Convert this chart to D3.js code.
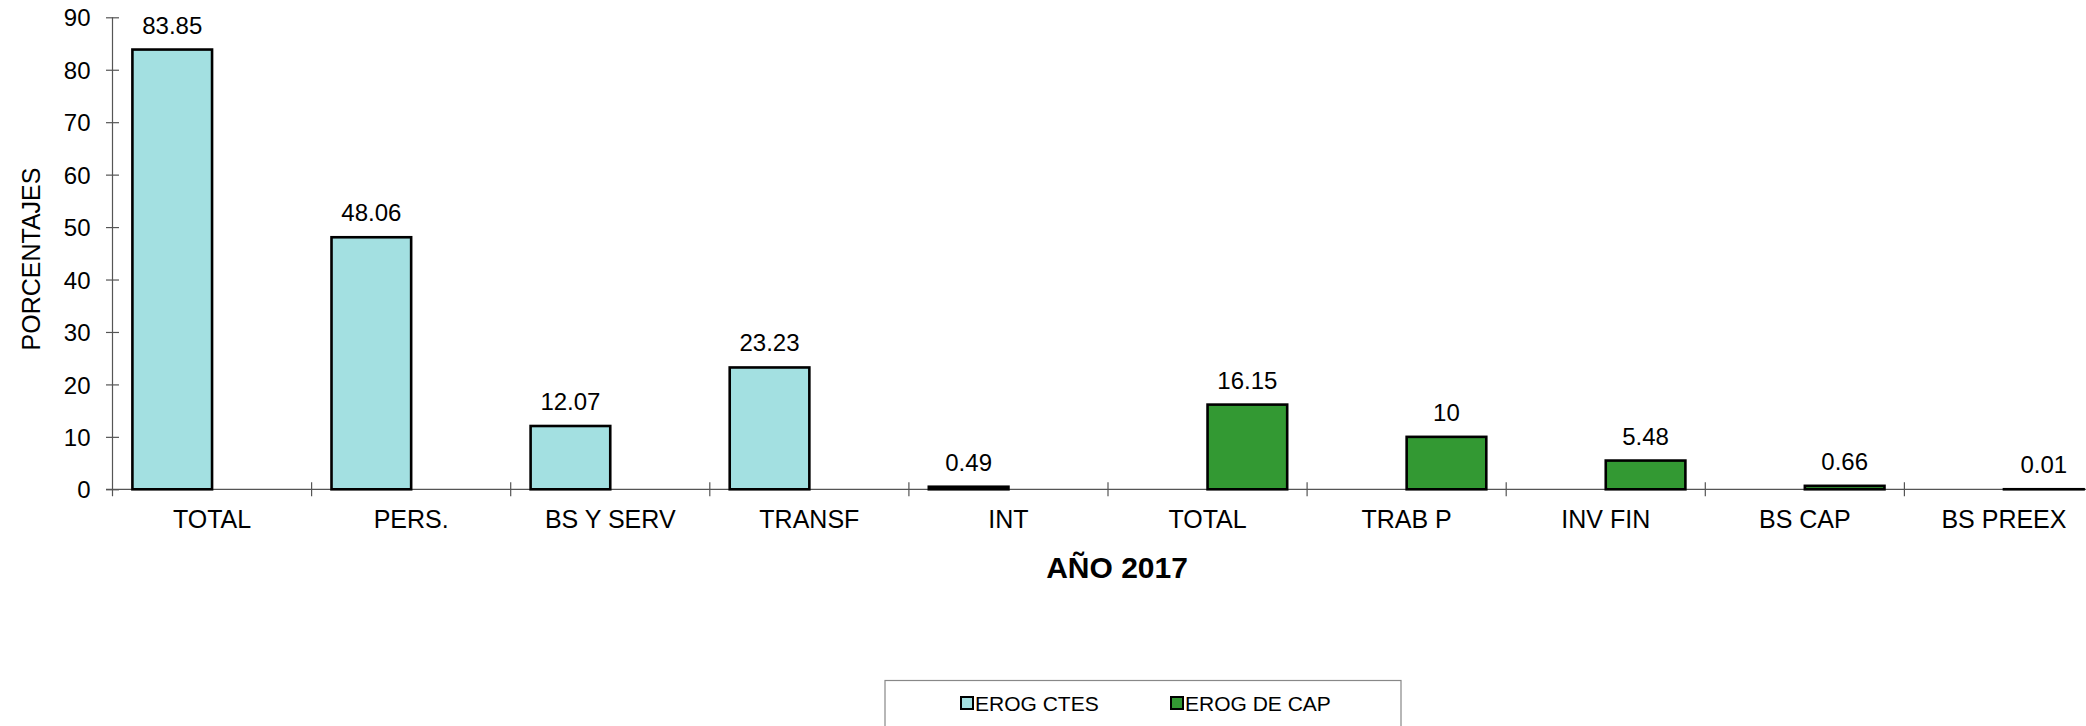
<!DOCTYPE html>
<html>
<head>
<meta charset="utf-8">
<script src="https://cdn.jsdelivr.net/npm/d3@7"></script>
<style>
  body { margin: 0; background: #fff; }
  svg { display: block; font-family: "Liberation Sans", Arial, sans-serif; }
</style>
</head>
<body>
<svg id="chart" width="2086" height="726"></svg>
<script>
// categories along the x axis
const categories = ["TOTAL", "PERS.", "BS Y SERV", "TRANSF", "INT",
                    "TOTAL ", "TRAB P", "INV FIN", "BS CAP", "BS PREEX"];
const seriesNames = ["EROG CTES", "EROG DE CAP"];
// values per series (null = no bar)
const erogCtes = [83.85, 48.06, 12.07, 23.23, 0.49, null, null, null, null, null];
const erogCap  = [null, null, null, null, null, 16.15, 10, 5.48, 0.66, 0.01];
const yTicks = [0, 10, 20, 30, 40, 50, 60, 70, 80, 90];
const colors = ["#a3e0e1", "#339933"];

const svg = d3.select("#chart");

// plot area
const x0 = 112.5, step = 199.1;
const x = d3.scaleBand()
    .domain(categories)
    .range([x0, x0 + step * categories.length])
    .paddingInner(0).paddingOuter(0);
const xs = d3.scaleBand()
    .domain(seriesNames)
    .range([0, x.bandwidth()])
    .paddingInner(0).paddingOuter(0.25);
const y = d3.scaleLinear().domain([0, 90]).range([489.3, 17.3]);

const series = [erogCtes, erogCap];

// y axis
const yAxis = svg.append("g")
    .attr("transform", `translate(${x0},0)`)
    .call(d3.axisLeft(y).tickValues(yTicks).tickSize(6.5).tickPadding(15));
yAxis.select(".domain").remove();
yAxis.append("line")
    .attr("x1", 0).attr("x2", 0)
    .attr("y1", y(90)).attr("y2", y(0) + 7)
    .attr("stroke", "#555").attr("stroke-width", 1.2);
yAxis.selectAll(".tick line")
    .attr("x1", -6.5).attr("x2", 6.5)
    .attr("stroke", "#555").attr("stroke-width", 1.2);
yAxis.selectAll(".tick text")
    .attr("font-size", 24).attr("fill", "#000")
    .attr("dy", "0.36em").attr("x", -22);

// x axis line + boundary ticks
const xg = svg.append("g");
xg.append("line")
    .attr("x1", x0 - 6.5).attr("x2", 2086)
    .attr("y1", y(0)).attr("y2", y(0))
    .attr("stroke", "#555").attr("stroke-width", 1.2);
xg.selectAll("line.bt")
    .data(categories.slice(1))
    .join("line")
    .attr("class", "bt")
    .attr("x1", d => x(d)).attr("x2", d => x(d))
    .attr("y1", y(0) - 7).attr("y2", y(0) + 7)
    .attr("stroke", "#555").attr("stroke-width", 1.2);
xg.selectAll("text")
    .data(categories)
    .join("text")
    .attr("x", d => x(d) + x.bandwidth() / 2)
    .attr("y", 528)
    .attr("text-anchor", "middle")
    .attr("font-size", 25)
    .text(d => d.trim());

// bars
series.forEach((vals, si) => {
  const g = svg.append("g");
  const data = categories.map((c, i) => ({c, v: vals[i]})).filter(d => d.v != null);
  g.selectAll("rect")
    .data(data)
    .join("rect")
    .attr("x", d => x(d.c) + xs(seriesNames[si]))
    .attr("y", d => y(d.v))
    .attr("width", xs.bandwidth())
    .attr("height", d => Math.max(0.01, y(0) - y(d.v)))
    .attr("fill", colors[si])
    .attr("stroke", "#000")
    .attr("stroke-width", 2.6);
  g.selectAll("text")
    .data(data)
    .join("text")
    .attr("x", d => x(d.c) + xs(seriesNames[si]) + xs.bandwidth() / 2)
    .attr("y", d => y(d.v) - 16)
    .attr("text-anchor", "middle")
    .attr("font-size", 24)
    .text(d => d.v);
});

// axis titles
svg.append("text")
    .attr("transform", "translate(40,259) rotate(-90)")
    .attr("text-anchor", "middle")
    .attr("font-size", 25)
    .text("PORCENTAJES");
svg.append("text")
    .attr("x", 1117).attr("y", 578)
    .attr("text-anchor", "middle")
    .attr("font-size", 30).attr("font-weight", "bold")
    .text("AÑO 2017");

// legend
const lg = svg.append("g");
lg.append("rect")
    .attr("x", 885).attr("y", 680.5)
    .attr("width", 516).attr("height", 60)
    .attr("fill", "#fff").attr("stroke", "#888").attr("stroke-width", 1.2);
const legendX = [961, 1171];
seriesNames.forEach((s, i) => {
  lg.append("rect")
    .attr("x", legendX[i]).attr("y", 697)
    .attr("width", 12).attr("height", 12)
    .attr("fill", colors[i]).attr("stroke", "#000").attr("stroke-width", 2);
  lg.append("text")
    .attr("x", legendX[i] + 14).attr("y", 711)
    .attr("font-size", 21)
    .text(s);
});
</script>
</body>
</html>
